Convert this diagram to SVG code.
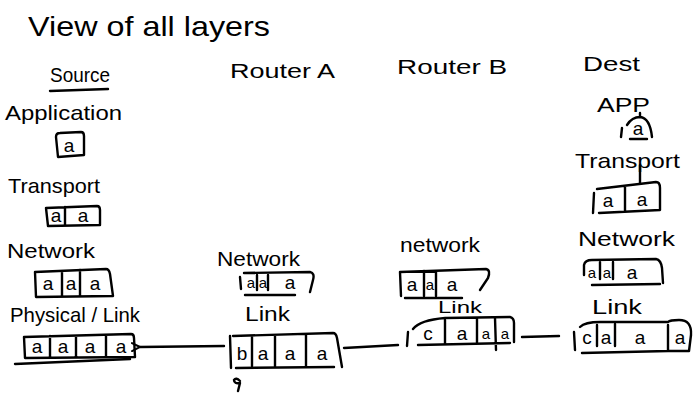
<svg xmlns="http://www.w3.org/2000/svg" width="698" height="393" viewBox="0 0 698 393">
  <style>
    .ink { fill: none; stroke: #000; stroke-width: 2.4; stroke-linecap: round; stroke-linejoin: round; }
    .lbl { font-family: "Liberation Sans", "DejaVu Sans", sans-serif; font-size: 21px; fill: #000; }
    .cell { font-family: "Liberation Sans", "DejaVu Sans", sans-serif; font-size: 19px; fill: #000; text-anchor: middle; }
    .cell.sm { font-size: 15px; }
    .title { font-family: "Liberation Sans", "DejaVu Sans", sans-serif; font-size: 28px; fill: #000; }
  </style>
  <defs>
    <marker id="arrow" markerWidth="10" markerHeight="10" refX="1" refY="5" orient="auto" markerUnits="userSpaceOnUse">
      <path d="M9,1 L1,5 L9,9" fill="none" stroke="#000" stroke-width="2" stroke-linecap="round"/>
    </marker>
  </defs>

  <rect width="698" height="393" fill="#fff"/>

  <text class="title" x="28" y="36" textLength="242" lengthAdjust="spacingAndGlyphs">View of all layers</text>

  <!-- Source host: full five-layer stack -->
  <g id="source">
    <text class="lbl" x="50" y="82" textLength="60" lengthAdjust="spacingAndGlyphs">Source</text>
    <path class="ink" d="M50,91 L108,89"/>
    <text class="lbl" x="5" y="120" textLength="117" lengthAdjust="spacingAndGlyphs">Application</text>
    <path class="ink" d="M56,137 Q56,133 60,133 L81,132 Q84,132 84,136 L84,155 L58,157 Z"/>
    <text class="cell" x="69" y="152">a</text>
    <text class="lbl" x="8" y="193" textLength="92" lengthAdjust="spacingAndGlyphs">Transport</text>
    <path class="ink" d="M46,208 L97,206 Q100,206 100,210 L100,225 L48,226 L46,208 M65,207 L65,225"/>
    <text class="cell" x="56" y="222">a</text>
    <text class="cell" x="83" y="222">a</text>
    <text class="lbl" x="7" y="258" textLength="88" lengthAdjust="spacingAndGlyphs">Network</text>
    <path class="ink" d="M35,272 L106,269 Q109,269 110,274 L113,296 L36,297 Z M62,271 L62,296 M80,270 L80,296"/>
    <text class="cell" x="48" y="290">a</text>
    <text class="cell" x="71" y="290">a</text>
    <text class="cell" x="95" y="290">a</text>
    <text class="lbl" x="10" y="322" textLength="130" lengthAdjust="spacingAndGlyphs">Physical / Link</text>
    <path class="ink" d="M24,337 L131,334 Q134,334 134,338 L135,357 L25,358 Z M50,336 L50,357 M76,336 L76,357 M106,335 L106,357"/>
    <path class="ink" d="M15,364 L130,359"/>
    <text class="cell" x="37" y="353">a</text>
    <text class="cell" x="63" y="353">a</text>
    <text class="cell" x="90" y="353">a</text>
    <text class="cell" x="121" y="353">a</text>
  </g>

  <!-- Router A: network + link -->
  <g id="router-a">
    <text class="lbl" x="230" y="78" textLength="105" lengthAdjust="spacingAndGlyphs">Router A</text>
    <text class="lbl" x="217" y="266" textLength="83" lengthAdjust="spacingAndGlyphs">Network</text>
    <path class="ink" d="M241,289 L240,277 M244,273 L310,272 Q315,273 313,280 L310,292 M257,275 L257,290 M268,275 L268,290 M245,295 L295,295"/>
    <text class="cell sm" x="251" y="288">a</text>
    <text class="cell sm" x="263" y="288">a</text>
    <text class="cell" x="290" y="289">a</text>
    <text class="lbl" x="245" y="321" textLength="45" lengthAdjust="spacingAndGlyphs">Link</text>
    <path class="ink" d="M230,336 L231,368 M233,336 L333,333 Q336,333 337,338 L342,367 M236,368 L334,367 M252,336 L252,366 M275,336 L275,366 M306,335 L306,366"/>
    <text class="cell" x="242" y="360">b</text>
    <text class="cell" x="263" y="360">a</text>
    <text class="cell" x="290" y="360">a</text>
    <text class="cell" x="322" y="360">a</text>
    <path class="ink" d="M240,381 Q236,377 234,380 Q234,384 240,383 L238,391" stroke-width="1.8"/>
  </g>

  <!-- Router B: network + link -->
  <g id="router-b">
    <text class="lbl" x="397" y="74" textLength="110" lengthAdjust="spacingAndGlyphs">Router B</text>
    <text class="lbl" x="400" y="252" textLength="80" lengthAdjust="spacingAndGlyphs">network</text>
    <path class="ink" d="M401,296 L400,272 L486,269 Q491,270 488,278 L480,290 M424,271 L424,296 M436,271 L436,296 M405,298 L462,298"/>
    <text class="cell" x="412" y="291">a</text>
    <text class="cell sm" x="430" y="290">a</text>
    <text class="cell" x="452" y="291">a</text>
    <text class="lbl" x="438" y="313" textLength="44" lengthAdjust="spacingAndGlyphs" style="font-size:17px">Link</text>
    <path class="ink" d="M408,332 L407,346 M413,329 Q420,320 445,318 L510,317 Q514,318 514,323 L514,342 M418,345 L510,343 M445,320 L445,343 M477,318 L477,343 M495,318 L496,350"/>
    <text class="cell" x="428" y="340">c</text>
    <text class="cell" x="462" y="340">a</text>
    <text class="cell sm" x="486" y="339">a</text>
    <text class="cell sm" x="505" y="339">a</text>
  </g>

  <!-- Destination host: full stack -->
  <g id="dest">
    <text class="lbl" x="583" y="71" textLength="57" lengthAdjust="spacingAndGlyphs">Dest</text>
    <text class="lbl" x="597" y="112" textLength="53" lengthAdjust="spacingAndGlyphs">APP</text>
    <path class="ink" d="M622,128 L621,137 M627,125 Q632,117 640,117 Q650,118 652,137 M630,139 L647,139 M640,113 L640,117"/>
    <text class="cell" x="638" y="135">a</text>
    <text class="lbl" x="575" y="168" textLength="105" lengthAdjust="spacingAndGlyphs">Transport</text>
    <path class="ink" d="M640,165 L640,183"/>
    <path class="ink" d="M594,193 L593,213 M597,189 L656,182 Q660,182 660,188 L660,210 L599,213 M625,186 L625,211"/>
    <text class="cell" x="608" y="207">a</text>
    <text class="cell" x="642" y="206">a</text>
    <text class="lbl" x="578" y="246" textLength="97" lengthAdjust="spacingAndGlyphs">Network</text>
    <path class="ink" d="M584,275 L584,265 Q585,260 592,260 L656,259 Q661,260 662,268 L663,283 M600,262 L600,279 M613,262 L613,279 M592,285 L660,284"/>
    <text class="cell sm" x="592" y="278">a</text>
    <text class="cell sm" x="607" y="278">a</text>
    <text class="cell" x="632" y="279">a</text>
    <text class="lbl" x="592" y="314" textLength="50" lengthAdjust="spacingAndGlyphs">Link</text>
    <path class="ink" d="M574,332 L575,350 M580,327 Q585,322 600,322 L668,322 M597,325 L597,346 M615,324 L615,346 M668,322 Q670,320 679,320 Q692,320 691,335 L689,351 L668,351 L668,325 M582,353 L668,351"/>
    <text class="cell" x="587" y="344">c</text>
    <text class="cell" x="606" y="344">a</text>
    <text class="cell" x="640" y="344">a</text>
    <text class="cell" x="680" y="344">a</text>
  </g>

  <!-- Links between hops -->
  <g id="connectors">
    <path class="ink" d="M224,346 L140,347" marker-end="url(#arrow)"/>
    <path class="ink" d="M344,348 L398,345"/>
    <path class="ink" d="M522,337 L559,336"/>
  </g>
</svg>
